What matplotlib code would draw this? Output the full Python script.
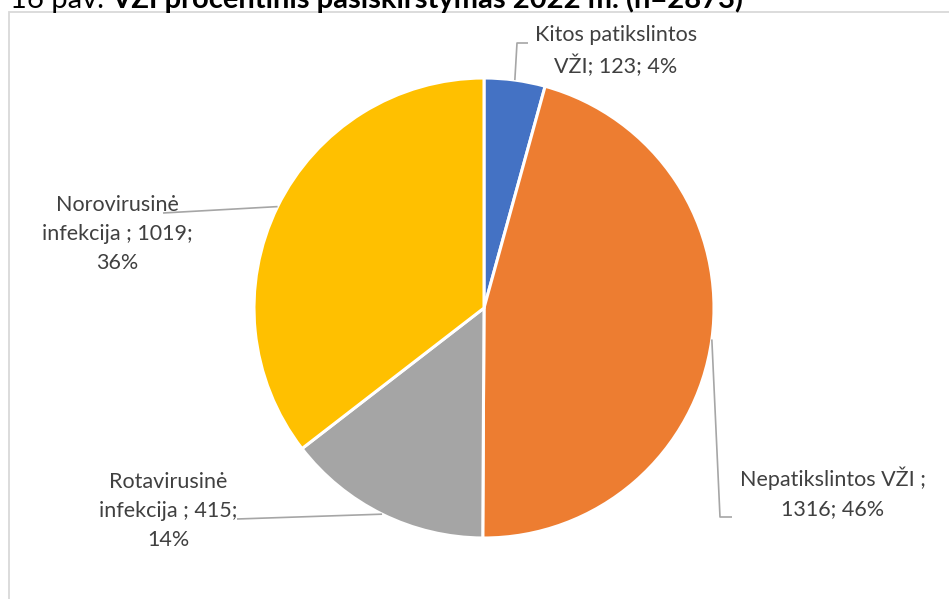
import numpy as np
import matplotlib.pyplot as plt
from matplotlib.patches import Rectangle

# data
categories = ["Kitos patikslintos VŽI", "Nepatikslintos VŽI", "Rotavirusinė infekcija", "Norovirusinė infekcija"]
values = [123, 1316, 415, 1019]
percents = [4, 46, 14, 36]
label_formats = [
    "Kitos patikslintos\nVŽI; {v}; {p}%",
    "Nepatikslintos VŽI ;\n{v}; {p}%",
    "Rotavirusinė\ninfekcija ; {v};\n{p}%",
    "Norovirusinė\ninfekcija ; {v};\n{p}%",
]
colors = ["#4472C4", "#ED7D31", "#A5A5A5", "#FFC000"]

W, H = 949, 599
plt.rcParams['font.family'] = ['Lato', 'DejaVu Sans']

fig = plt.figure(figsize=(W / 100, H / 100), dpi=100)
ax = fig.add_axes([0, 0, 1, 1])

cx, cy, r = 484, H - 308, 230
wedges, _ = ax.pie(values, colors=colors, startangle=90, counterclock=False,
                   center=(cx, cy), radius=r,
                   wedgeprops=dict(edgecolor="white", linewidth=2.2))
ax.set_xlim(0, W)
ax.set_ylim(0, H)
ax.set_aspect('equal')
ax.axis('off')

# label centres and leader line bends (pixel layout)
label_pos = [(616, H - 51), (833, H - 493), (168, H - 511), (117, H - 234)]
leader_bends = [
    [(517, H - 43), (528, H - 43)],
    [(720, H - 517), (732, H - 517)],
    [(237, H - 519)],
    [(163, H - 213)],
]

for w, fmt, v, p, pos, bends in zip(wedges, label_formats, values, percents, label_pos, leader_bends):
    mid = np.deg2rad((w.theta1 + w.theta2) / 2)
    sx, sy = cx + r * np.cos(mid), cy + r * np.sin(mid)
    xs = [sx] + [b[0] for b in bends]
    ys = [sy] + [b[1] for b in bends]
    ax.plot(xs, ys, color="#a6a6a6", lw=1.2, solid_capstyle='butt')
    ax.text(pos[0], pos[1], fmt.format(v=v, p=p), ha='center', va='center',
            fontsize=15.5, color="#404040", linespacing=1.55)

# chart frame (only left and top edges are visible)
fig.patches.append(Rectangle((8.5 / W, -0.1), 1.2, (H - 12) / H + 0.1,
                             transform=fig.transFigure, fill=False,
                             edgecolor="#d9d9d9", lw=1.3))

# cropped caption at the very top
t1 = fig.text(10 / W, (H - 8) / H, "16 pav. ", fontsize=21, color="black", va='baseline')
fig.canvas.draw()
bb = t1.get_window_extent()
fig.text(bb.x1 / W, (H - 8) / H, "VŽI procentinis pasiskirstymas 2022 m. (n=2873)",
         fontsize=21, fontweight='bold', color="black", va='baseline')

fig.savefig("out.png", dpi=100)
